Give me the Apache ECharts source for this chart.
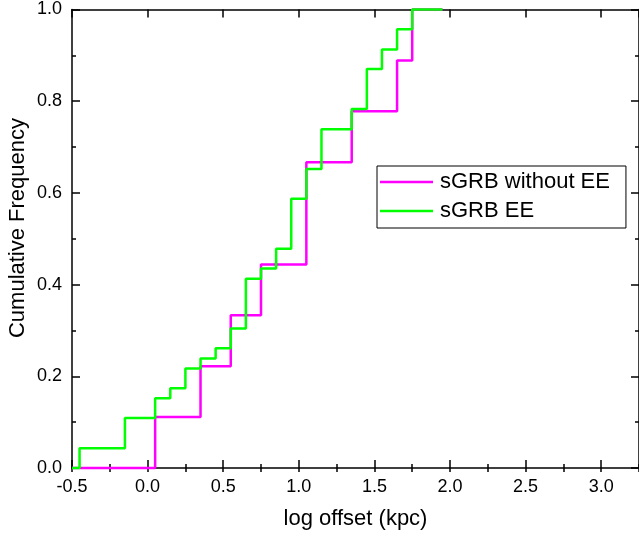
<!DOCTYPE html>
<html>
<head>
<meta charset="utf-8">
<script src="https://cdn.jsdelivr.net/npm/echarts@6/dist/echarts.min.js"></script>
<style>html,body{margin:0;padding:0;background:#fff}#c{width:639px;height:540px}</style>
</head>
<body>
<div id="c"></div>
<script>
// Data
var offsetWithout = [-0.5, 0.05, 0.35, 0.55, 0.75, 1.05, 1.35, 1.65, 1.75, 1.95];
var freqWithout   = [0, 0.111, 0.222, 0.333, 0.444, 0.667, 0.778, 0.889, 1.0, 1.0];
var offsetEE = [-0.5, -0.45, -0.15, 0.05, 0.15, 0.25, 0.35, 0.45, 0.55, 0.65, 0.75, 0.85, 0.95, 1.05, 1.15, 1.35, 1.45, 1.55, 1.65, 1.75, 1.95];
var freqEE   = [0, 0.043, 0.109, 0.152, 0.174, 0.217, 0.239, 0.261, 0.304, 0.413, 0.435, 0.478, 0.587, 0.652, 0.739, 0.783, 0.870, 0.913, 0.957, 1.0, 1.0];
var seriesNames = ['sGRB without EE', 'sGRB EE'];
var xTitle = 'log offset (kpc)';
var yTitle = 'Cumulative Frequency';

function pairs(xs, ys) { return xs.map(function (x, i) { return [x, ys[i]]; }); }

var FONT = 'Liberation Sans, Arial, sans-serif';
var axisLine = { show: true, onZero: false, lineStyle: { color: '#000', width: 1.5 } };
var XMIN = -0.5, XMAX = 3.25;

function xAx(pos, interval, len, labels, line) {
  return {
    type: 'value', position: pos, min: XMIN, max: XMAX, interval: interval,
    axisLine: line ? axisLine : { show: false },
    axisTick: { show: true, inside: true, length: len, lineStyle: { color: '#000', width: 1.5 } },
    axisLabel: labels ? {
      show: true, color: '#000', fontSize: 18, fontFamily: FONT, margin: 10,
      showMaxLabel: false,
      formatter: function (v) { return (Math.abs(v * 2 - Math.round(v * 2)) < 1e-6) ? v.toFixed(1) : ''; }
    } : { show: false },
    splitLine: { show: false }
  };
}
function yAx(pos, labels) {
  return {
    type: 'value', position: pos, min: 0, max: 1, interval: 0.2,
    axisLine: axisLine,
    axisTick: { show: true, inside: true, length: 8, lineStyle: { color: '#000', width: 1.5 } },
    minorTick: { show: true, splitNumber: 2, length: 4, lineStyle: { color: '#000', width: 1.5 } },
    axisLabel: labels ? { show: true, color: '#000', fontSize: 18, fontFamily: FONT, margin: 10,
      formatter: function (v) { return v.toFixed(1); } } : { show: false },
    splitLine: { show: false }
  };
}

var chart = echarts.init(document.getElementById('c'), null, { renderer: 'canvas' });
chart.setOption({
  animation: false,
  backgroundColor: '#fff',
  grid: { left: 72, top: 9.5, right: -3, bottom: 72, containLabel: false },
  xAxis: [
    Object.assign(xAx('bottom', 0.5, 8, true, true), { name: xTitle, nameLocation: 'middle', nameGap: 40,
      nameTextStyle: { color: '#000', fontSize: 22, fontFamily: FONT } }),
    xAx('bottom', 0.25, 4, false, false),
    xAx('top', 0.5, 8, false, true),
    xAx('top', 0.25, 4, false, false)
  ],
  yAxis: [ yAx('left', true), yAx('right', false) ],
  legend: {
    orient: 'vertical', left: 377, top: 166,
    padding: [5, 16, 6, 3], itemGap: 7, itemWidth: 53, itemHeight: 2.5,
    icon: 'rect',
    borderColor: '#000', borderWidth: 1, borderRadius: 0,
    textStyle: { color: '#000', fontSize: 22, fontFamily: FONT, padding: [0, 0, 0, 2] },
    data: seriesNames
  },
  graphic: [{
    type: 'text', x: 17.5, y: 228, rotation: Math.PI / 2,
    style: { text: yTitle, fill: '#000', fontSize: 22, fontFamily: FONT, align: 'center', verticalAlign: 'middle' }
  }],
  series: [
    { name: seriesNames[0], type: 'line', step: 'end', symbol: 'none', clip: false,
      xAxisIndex: 0, yAxisIndex: 0,
      lineStyle: { color: '#ff00ff', width: 2.5 }, itemStyle: { color: '#ff00ff' },
      data: pairs(offsetWithout, freqWithout) },
    { name: seriesNames[1], type: 'line', step: 'end', symbol: 'none', clip: false,
      xAxisIndex: 0, yAxisIndex: 0,
      lineStyle: { color: '#00ff00', width: 2.5 }, itemStyle: { color: '#00ff00' },
      data: pairs(offsetEE, freqEE) }
  ]
});
</script>
</body>
</html>
